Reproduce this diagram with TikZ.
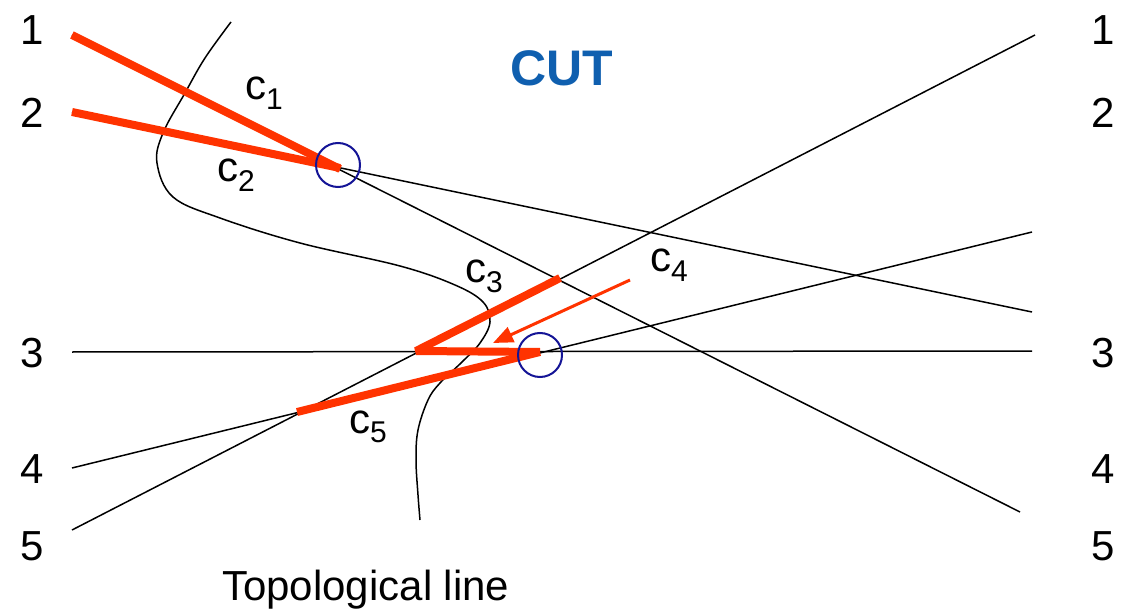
\documentclass[tikz,border=0pt]{standalone}
\usepackage{fontspec}
\setmainfont{Liberation Sans}
\usetikzlibrary{arrows.meta,calc}
\definecolor{cutred}{RGB}{255,51,0}
\definecolor{cutblue}{RGB}{15,95,175}
\definecolor{ringblue}{RGB}{20,20,150}
\begin{document}
\begin{tikzpicture}[x=1pt,y=-1pt,
  thinline/.style={line width=1.5pt,black},
  redcut/.style={line width=8pt,cutred,line join=bevel},
  ring/.style={circle,draw=ringblue,line width=2pt,minimum size=44pt,inner sep=0pt},
  num/.style={font=\fontsize{42}{42}\selectfont,anchor=base,inner sep=0pt},
  clab/.style={font=\fontsize{42}{42}\selectfont,anchor=base west,inner sep=0pt}]
\useasboundingbox (0,0) rectangle (1129,612);
% end points
\coordinate (L1) at (72,35);   \coordinate (R1) at (1020,512);
\coordinate (L2) at (72,112);  \coordinate (R2) at (1032,312);
\coordinate (L3) at (72,352);  \coordinate (R3) at (1032,351);
\coordinate (L4) at (72,468);  \coordinate (R4) at (1032,232);
\coordinate (L5) at (72,530);  \coordinate (R5) at (1035,35);
\coordinate (A) at (338,168);
\coordinate (B) at (540,352);
\coordinate (P) at (416,351);
\coordinate (Q) at (560,278);
\coordinate (S) at (297,412);
\coordinate (T4) at (630,280);
\coordinate (H4) at (493,343);
% black lines
\draw[thinline] (L1) -- (R1);
\draw[thinline] (L2) -- (R2);
\draw[thinline] (L3) -- (R3);
\draw[thinline] (L4) -- (R4);
\draw[thinline] (L5) -- (R5);
% topological line
\draw[line width=1.5pt] plot[smooth,tension=0.6] coordinates {(231,22) (205,58) (185,93) (163,133) (157,163) (173,197) (220,218) (300,243) (400,266) (455,285) (483,302) (490,322) (480,343) (462,362) (440,383) (428,400) (418,430) (416,460) (418,495) (420,520)};
% red cuts
\draw[redcut] (L1) -- ($(A)+(2,1)$);
\draw[redcut] (L2) -- ($(A)+(2,0)$);
\draw[redcut] (Q) -- (P) -- (B);
\draw[redcut] (S) -- (B);
\draw[line width=3pt,cutred,-{Triangle[length=20pt,width=16pt]}] (T4) -- (H4);
% rings
\node[ring] (ringA) at (338,165) {};
\node[ring] (ringB) at (540,355) {};
% labels
\node[num] (n1l) at (32,45) {1};
\node[num] (n2l) at (32,128) {2};
\node[num] (n3l) at (32,367) {3};
\node[num] (n4l) at (32,483) {4};
\node[num] (n5l) at (32,560) {5};
\node[num] (n1r) at (1103,45) {1};
\node[num] (n2r) at (1103,128) {2};
\node[num] (n3r) at (1103,367) {3};
\node[num] (n4r) at (1103,483) {4};
\node[num] (n5r) at (1103,560) {5};
\node[font=\fontsize{50}{50}\selectfont\bfseries,text=cutblue,anchor=base,inner sep=0pt] (cut) at (562,86) {CUT};
\newcommand{\csub}[1]{c\raisebox{-0.22em}{\fontsize{30}{30}\selectfont #1}}
\node[clab] (c1) at (245,100) {\csub{1}};
\node[clab] (c2) at (217,182) {\csub{2}};
\node[clab] (c3) at (465,283) {\csub{3}};
\node[clab] (c4) at (650,272) {\csub{4}};
\node[clab] (c5) at (349,433) {\csub{5}};
\node[clab] (topo) at (222,600) {Topological line};
\end{tikzpicture}
\end{document}
